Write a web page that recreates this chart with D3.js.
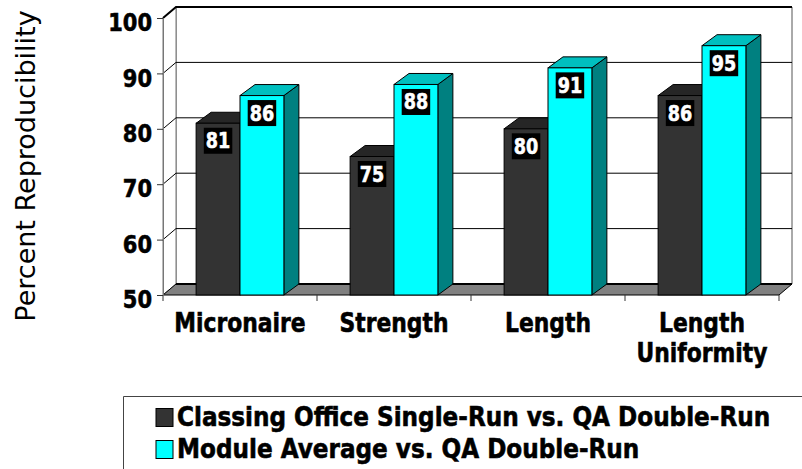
<!DOCTYPE html>
<html>
<head>
<meta charset="utf-8">
<script src="https://cdn.jsdelivr.net/npm/d3@7"></script>
<style>
  body { margin: 0; background: #fff; }
  svg { display: block; font-family: 'DejaVu Sans', Verdana, sans-serif; }
</style>
</head>
<body>
<svg width="802" height="469"></svg>
<script>
let categories = ['Micronaire', 'Strength', 'Length', 'Length Uniformity'];
let seriesNames = ['Classing Office Single-Run vs. QA Double-Run', 'Module Average vs. QA Double-Run'];
let classingOffice = [81, 75, 80, 86];
let moduleAverage = [86, 88, 91, 95];
let yTicks = [50, 60, 70, 80, 90, 100];

let frontColors = ['#333333', '#00ffff'];
let topColors = ['#262626', '#00bfbf'];
let sideColors = ['#1c1c1c', '#008080'];

// depth of the walls and of the bars (3d offset)
let dx = 13, dy = -11;
let bdx = 15, bdy = -11;

let svg = d3.select('svg');

let x0 = d3.scaleBand()
  .domain(categories)
  .range([163, 779])
  .paddingInner(0.43)
  .paddingOuter(0.215)
  ;

let x1 = d3.scaleBand()
  .domain([0, 1])
  .range([0, x0.bandwidth()])
  ;

let y = d3.scaleLinear()
  .domain([50, 100])
  .range([295, 18])
  ;

// squeeze text a bit so the wide DejaVu looks like the narrow original face
function squeeze(sel, k) {
  sel.each(function() {
    let w = this.getComputedTextLength();
    d3.select(this)
      .attr('textLength', w * k)
      .attr('lengthAdjust', 'spacingAndGlyphs');
  });
}

// heavier bold, the original face is quite black
function heavy(sel, color) {
  sel.attr('stroke', color).attr('stroke-width', 0.6).attr('paint-order', 'stroke');
}

let xl = x0.range()[0], xr = x0.range()[1];
let yb = y(50), yt = y(100);

// back wall
svg.append('polygon')
  .attr('points', [[xl + dx, yt + dy], [xr + dx, yt + dy], [xr + dx, yb + dy], [xl + dx, yb + dy]].join(' '))
  .attr('fill', '#fff')
  .attr('stroke', '#555')
  ;

// left wall
svg.append('polygon')
  .attr('points', [[xl, yt], [xl + dx, yt + dy], [xl + dx, yb + dy], [xl, yb]].join(' '))
  .attr('fill', '#fff')
  .attr('stroke', '#777')
  ;

// gridlines on the walls
svg.append('g')
  .selectAll('polyline')
  .data(yTicks.filter(d => d > 50 && d < 100))
  .enter()
    .append('polyline')
    .attr('points', d => [[xl, y(d)], [xl + dx, y(d) + dy], [xr + dx, y(d) + dy]].join(' '))
    .attr('fill', 'none')
    .attr('stroke', '#000')
  ;

// top edge
svg.append('polyline')
  .attr('points', [[xl, yt], [xl + dx, yt + dy], [xr + dx, yt + dy]].join(' '))
  .attr('fill', 'none')
  .attr('stroke', '#000')
  .attr('stroke-width', 2)
  ;

// floor
svg.append('polygon')
  .attr('points', [[xl, yb], [xr, yb], [xr + dx, yb + dy], [xl + dx, yb + dy]].join(' '))
  .attr('fill', '#808080')
  .attr('stroke', '#000')
  ;
svg.append('line')
  .attr('x1', xl + dx).attr('y1', yb + dy)
  .attr('x2', xr + dx).attr('y2', yb + dy)
  .attr('stroke', '#000')
  .attr('stroke-width', 2)
  ;

// category tick marks at band edges
svg.append('g')
  .selectAll('line')
  .data(d3.range(categories.length + 1))
  .enter()
    .append('line')
    .attr('x1', i => xl + i * x0.step())
    .attr('x2', i => xl + i * x0.step())
    .attr('y1', yb)
    .attr('y2', yb + 6)
    .attr('stroke', '#333')
  ;

// y axis
let yAxis = svg.append('g')
  .attr('transform', `translate(${xl},0)`)
  .call(d3.axisLeft(y).tickValues(yTicks).tickSize(6).tickPadding(5))
  ;
yAxis.select('.domain').attr('stroke', '#777');
yAxis.selectAll('.tick line').attr('stroke', '#333');
yAxis.selectAll('.tick text')
  .attr('font-family', 'DejaVu Sans')
  .attr('font-size', 25)
  .attr('font-weight', 'bold')
  .attr('fill', '#000')
  .attr('dy', '0.43em')
  .attr('y', 2)
  .call(squeeze, 0.84)
  .call(heavy, '#000')
  ;

// bars
let bars = [];
categories.forEach((c, i) => {
  [classingOffice[i], moduleAverage[i]].forEach((v, s) => {
    bars.push({ cat: c, s: s, v: v });
  });
});

let barG = svg.append('g')
  .selectAll('g')
  .data(bars)
  .enter()
    .append('g')
  ;

barG.each(function(d) {
  let g = d3.select(this);
  let bx = x0(d.cat) + x1(d.s);
  let w = x1.bandwidth();
  let yv = y(d.v);
  g.append('polygon')
    .attr('points', [[bx + w, yv], [bx + w + bdx, yv + bdy], [bx + w + bdx, yb + bdy], [bx + w, yb]].join(' '))
    .attr('fill', sideColors[d.s])
    .attr('stroke', '#000')
    ;
  g.append('polygon')
    .attr('points', [[bx, yv], [bx + bdx, yv + bdy], [bx + w + bdx, yv + bdy], [bx + w, yv]].join(' '))
    .attr('fill', topColors[d.s])
    .attr('stroke', '#000')
    ;
  g.append('rect')
    .attr('x', bx)
    .attr('y', yv)
    .attr('width', w)
    .attr('height', yb - yv)
    .attr('fill', frontColors[d.s])
    .attr('stroke', '#000')
    ;
  let box = g.append('rect').attr('fill', '#000');
  let t = g.append('text')
    .attr('x', bx + w / 2)
    .attr('y', yv + 25)
    .attr('text-anchor', 'middle')
    .attr('font-size', 22)
    .attr('font-weight', 'bold')
    .attr('fill', '#fff')
    .text(d.v)
    .call(squeeze, 0.8)
    .call(heavy, '#fff')
    ;
  let tw = +t.attr('textLength');
  box.attr('x', bx + w / 2 - tw / 2 - 2)
    .attr('y', yv + 4.5)
    .attr('width', tw + 4)
    .attr('height', 26)
    ;
});

// category labels
let catG = svg.append('g');
categories.forEach(c => {
  let lines = c.split(' ');
  lines.forEach((line, k) => {
    catG.append('text')
      .attr('x', x0(c) + x0.bandwidth() / 2)
      .attr('y', 332 + k * 30)
      .attr('text-anchor', 'middle')
      .attr('font-size', 26)
      .attr('font-weight', 'bold')
      .text(line)
      .call(squeeze, 0.84)
      .call(heavy, '#000')
      ;
  });
});

// y title
svg.append('text')
  .attr('transform', 'translate(35,166) rotate(-90)')
  .attr('text-anchor', 'middle')
  .attr('font-size', 27)
  .text('Percent Reproducibility')
  ;

// legend: only the top and left border show, the box runs past the picture
let legend = svg.append('g');
legend.append('path')
  .attr('d', 'M123.5,469V396.5H802')
  .attr('fill', 'none')
  .attr('stroke', '#444')
  ;
let items = legend.selectAll('g.item')
  .data(seriesNames)
  .enter()
    .append('g')
    .attr('class', 'item')
    .attr('transform', (d, i) => `translate(0,${i * 32})`)
  ;
items.append('rect')
  .attr('x', 156)
  .attr('y', 408.5)
  .attr('width', 17)
  .attr('height', 18)
  .attr('fill', (d, i) => frontColors[i])
  .attr('stroke', '#000')
  ;
items.append('text')
  .attr('transform', 'translate(177,426) scale(0.89,1)')
  .attr('font-size', 26)
  .attr('font-weight', 'bold')
  .text(d => d)
  .call(heavy, '#000')
  ;
</script>
</body>
</html>
